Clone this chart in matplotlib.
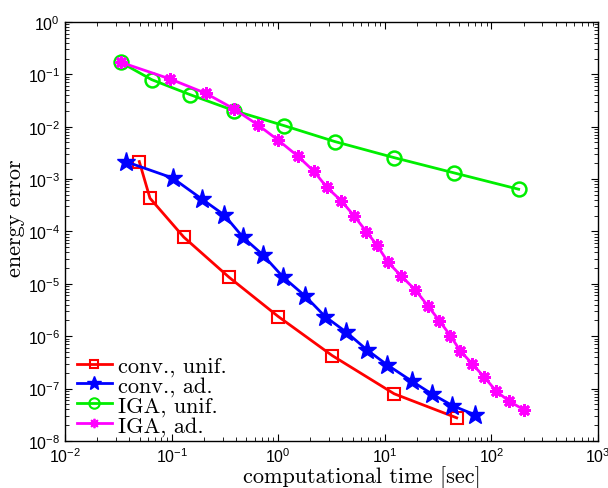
import matplotlib
matplotlib.use("Agg")
import matplotlib.pyplot as plt

# conv., unif.
t_conv_unif = [0.0497, 0.0626, 0.130, 0.345, 1.0, 3.21, 12.25, 47.2]
e_conv_unif = [2.16e-3, 4.32e-4, 7.79e-5, 1.34e-5, 2.38e-6, 4.27e-7, 7.96e-8, 2.77e-8]

# conv., ad.
t_conv_ad = [0.0370, 0.102, 0.191, 0.311, 0.469, 0.714, 1.114, 1.79, 2.75, 4.34,
             6.84, 10.5, 17.9, 27.5, 42.9, 70.0]
e_conv_ad = [2.16e-3, 1.05e-3, 4.19e-4, 2.07e-4, 7.68e-5, 3.62e-5, 1.34e-5, 5.85e-6,
             2.38e-6, 1.20e-6, 5.43e-7, 2.85e-7, 1.39e-7, 7.96e-8, 4.76e-8, 3.16e-8]

# IGA, unif.
t_iga_unif = [0.0332, 0.0649, 0.1485, 0.384, 1.131, 3.40, 12.2, 44.8, 180.0]
e_iga_unif = [0.170, 0.0792, 0.041, 0.0203, 0.0105, 5.2e-3, 2.57e-3, 1.31e-3, 6.4e-4]

# IGA, ad.
t_iga_ad = [0.0332, 0.0964, 0.208, 0.384, 0.645, 1.0, 1.53, 2.16, 2.86, 3.91, 5.13,
            6.72, 8.43, 10.7, 14.1, 19.3, 25.2, 32.4, 41.1, 51.0, 66.0, 85.6, 111.0,
            146.0, 202.0]
e_iga_ad = [0.170, 0.0817, 0.0436, 0.0219, 0.0108, 5.52e-3, 2.73e-3, 1.41e-3, 6.95e-4,
            3.84e-4, 2.00e-4, 9.9e-5, 5.48e-5, 2.60e-5, 1.44e-5, 7.68e-6, 3.85e-6,
            1.99e-6, 1.03e-6, 5.26e-7, 2.97e-7, 1.66e-7, 8.95e-8, 5.77e-8, 3.94e-8]

plt.rcParams['font.family'] = ['Liberation Sans', 'DejaVu Sans']
plt.rcParams['mathtext.fontset'] = 'custom'
plt.rcParams['mathtext.rm'] = 'Liberation Sans'

fig = plt.figure(figsize=(6.08, 4.89), dpi=100)
ax = fig.add_axes([0.107, 0.0961, 0.8766, 0.857])

ax.loglog(t_conv_unif, e_conv_unif, color='#ff0000', lw=2, marker='s', ms=8,
          mfc='none', mew=1.5, label='conv., unif.')
ax.loglog(t_conv_ad, e_conv_ad, color='#0000ff', lw=2, marker='*', ms=14,
          label='conv., ad.')
ax.loglog(t_iga_unif, e_iga_unif, color='#00ee00', lw=2, marker='o', ms=10,
          mfc='none', mew=1.8, label='IGA, unif.')
ax.loglog(t_iga_ad, e_iga_ad, color='#ff00ff', lw=2, marker=(8, 2, 0), ms=9,
          mew=2.0, label='IGA, ad.')

ax.set_xlim(1e-2, 1e3)
ax.set_ylim(1e-8, 1e0)
ax.tick_params(which='both', direction='in', top=True, right=True, labelsize=11.5)
ax.tick_params(which='major', length=5)
ax.tick_params(which='minor', length=3)
for s in ax.spines.values():
    s.set_linewidth(1.0)

ax.set_xlabel('computational time [sec]', fontfamily='cmr10', fontsize=16)
ax.set_ylabel('energy error', fontfamily='cmr10', fontsize=16)
ax.xaxis.set_label_coords(0.557, -0.057)
ax.yaxis.set_label_coords(-0.076, 0.535)

leg = ax.legend(loc='lower left', bbox_to_anchor=(-0.0075, -0.024), frameon=False,
                prop={'family': 'cmr10', 'size': 16},
                handlelength=1.6, handletextpad=0.25, labelspacing=0.0,
                borderaxespad=0.3, markerscale=0.75)
leg.legend_handles[3].set_markeredgewidth(1.3)
leg.legend_handles[2].set_markeredgewidth(1.5)

fig.savefig('out.png', dpi=100)
